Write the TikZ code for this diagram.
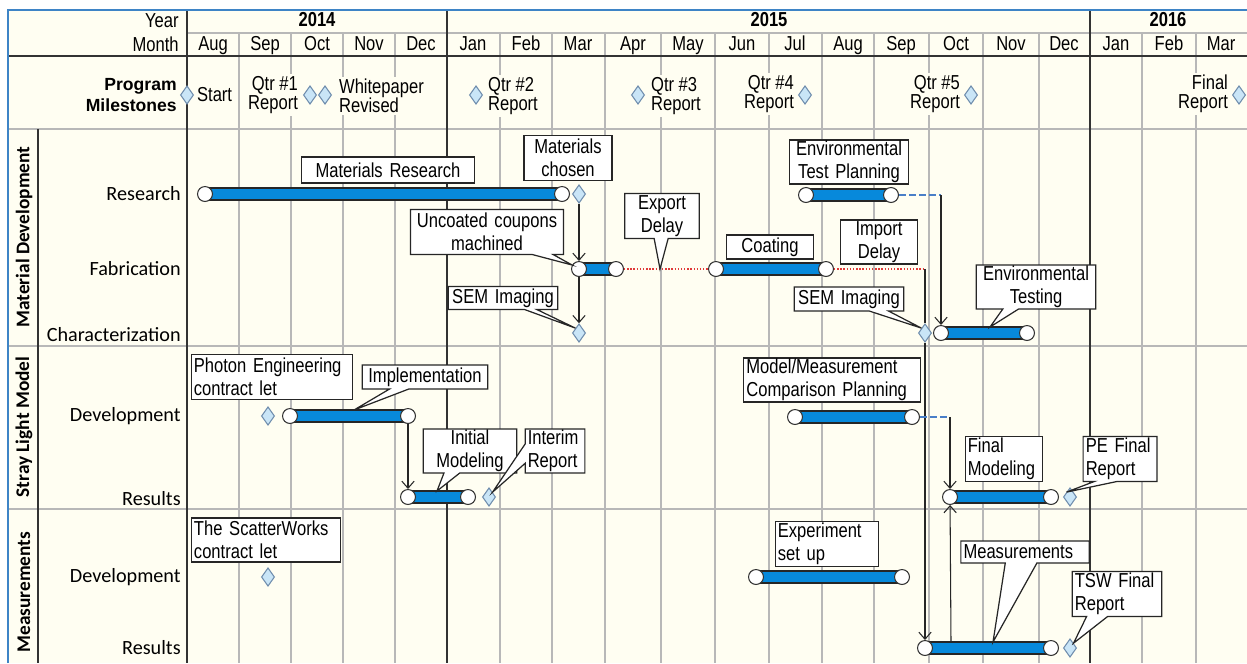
\documentclass[tikz,border=0pt]{standalone}
\usepackage{fontspec}
\setmainfont{Liberation Sans}[FakeStretch=0.82]
\newfontfamily\calfont{Carlito}
\newfontfamily\plainfont{Liberation Sans}
\usetikzlibrary{shapes.geometric,shapes.callouts,arrows.meta}
\definecolor{cream}{HTML}{FFFEF2}
\definecolor{gridgrey}{HTML}{B8B8B8}
\definecolor{framblue}{HTML}{3E84C6}
\definecolor{barblue}{HTML}{0789DB}
\definecolor{dfill}{HTML}{C9E5F7}
\definecolor{dgray}{HTML}{6F8DAD}
\definecolor{delayred}{HTML}{E03A3A}
\definecolor{slackblue}{HTML}{4A7FC8}
\begin{document}
\begin{tikzpicture}[x=0.02cm, y=-0.02cm,
  every node/.style={font=\fontsize{11.5}{13}\selectfont},
  mline/.style={draw=gridgrey, line width=0.6pt},
  yline/.style={draw=black!80, line width=0.8pt},
  mon/.style={text height=8.5pt, text depth=2.5pt, inner sep=0pt},
  rowlbl/.style={anchor=east, inner sep=0pt, font=\calfont\fontsize{11.5}{13}\selectfont},
  sectlbl/.style={rotate=90, inner sep=0pt, font=\calfont\bfseries\fontsize{11}{13}\selectfont},
  mslbl/.style={fill=cream, inner sep=1pt, font=\fontsize{11.5}{11}\selectfont},
  msd/.style={diamond, draw=dgray, fill=dfill, line width=0.6pt, minimum width=7.5pt, minimum height=10.5pt, inner sep=0pt},
  endpt/.style={circle, draw=black!80, fill=white, line width=0.6pt, minimum size=8.5pt, inner sep=0pt},
  gbar/.style={draw=black!85, fill=barblue, line width=0.7pt},
  gnote/.style={draw=black!85, fill=white, line width=0.7pt, inner xsep=1.5pt, inner ysep=0.5pt},
  gcall/.style={gnote, rectangle callout, callout pointer width=#1},
  glink/.style={draw=black!85, line width=0.6pt, -{Straight Barb[length=4pt,width=7pt]}},
  thinln/.style={draw=black!85, line width=0.6pt},
  gdelay/.style={draw=delayred, line width=0.8pt, densely dotted},
  gslack/.style={draw=slackblue, line width=1.2pt, dash pattern=on 4pt off 1.7pt}]
\useasboundingbox (0,0) rectangle (1247,663);
% frame and grid
\fill[cream] (8,10) rectangle (1247,663);
\foreach \x in {239,291,343,395,500,552,605,661,715,769,822,874,929,983,1039,1142,1196}
  \draw[mline] (\x,33) -- (\x,663);
\draw[mline] (187,33) -- (1247,33);
\foreach \y in {129,346,509}
  \draw[mline] (8,\y) -- (1247,\y);
\foreach \x in {187,447,1090}
  \draw[yline] (\x,10) -- (\x,663);
\draw[yline] (38,129) -- (38,663);
\draw[yline, line width=1pt] (8,56) -- (1247,56);
\draw[framblue, line width=1pt] (8,663) -- (8,10) -- (1247,10);

% header
\node[anchor=east, inner sep=0pt] (yr) at (179,21) {Year};
\node[anchor=east, inner sep=0pt] (mo) at (179,44) {Month};
\node[font=\bfseries\fontsize{11.5}{13}\selectfont] (y14) at (317,20) {2014};
\node[font=\bfseries\fontsize{11.5}{13}\selectfont] (y15) at (769,20) {2015};
\node[font=\bfseries\fontsize{11.5}{13}\selectfont] (y16) at (1168,20) {2016};
\foreach \m/\x [count=\i] in {Aug/213,Sep/265,Oct/317,Nov/369,Dec/421,Jan/473,Feb/526,Mar/578,Apr/633,May/688,Jun/742,Jul/795,Aug/848,Sep/901,Oct/956,Nov/1011,Dec/1064,Jan/1116,Feb/1169,Mar/1221}
  \node[mon] (mon\i) at (\x,45) {\m};

% milestones
\node[anchor=east, align=right, inner sep=0pt, font=\plainfont\bfseries\fontsize{10}{11.5}\selectfont] (pm) at (177,95) {Program\\Milestones};
\node[mslbl, anchor=west] (mst0) at (195,95) {Start};
\node[mslbl, anchor=east, align=right] (mst1) at (300,95) {Qtr \#1\\Report};
\node[mslbl, anchor=west, align=left] (mst2) at (337,96) {Whitepaper\\Revised};
\node[mslbl, anchor=west, align=left] (mst3) at (486,96) {Qtr \#2\\Report};
\node[mslbl, anchor=west, align=left] (mst4) at (649,96) {Qtr \#3\\Report};
\node[mslbl, anchor=east, align=right] (mst5) at (796,94) {Qtr \#4\\Report};
\node[mslbl, anchor=east, align=right] (mst6) at (962,94) {Qtr \#5\\Report};
\node[mslbl, anchor=east, align=right] (mst7) at (1230,94) {Final\\Report};
\foreach \x [count=\i] in {187,310,325,476,638,805,971,1239}
  \node[msd] (ms\i) at (\x,95) {};

% row and section labels
\node[sectlbl] (smat) at (24,237) {Material Development};
\node[sectlbl] (sstr) at (24,427) {Stray Light Model};
\node[sectlbl] (smea) at (24,592) {Measurements};
\node[rowlbl] (rres) at (181,194) {Research};
\node[rowlbl] (rfab) at (181,269) {Fabrication};
\node[rowlbl] (rchr) at (181,335) {Characterization};
\node[rowlbl] (rsdv) at (181,416) {Development};
\node[rowlbl] (rsrs) at (181,499) {Results};
\node[rowlbl] (rmdv) at (181,577) {Development};
\node[rowlbl] (rmrs) at (181,648) {Results};

% task bars
\draw[gbar] (205,188) rectangle (562,200);
\draw[gbar] (579,263) rectangle (616,275);
\draw[gbar] (716,263) rectangle (826,275);
\draw[gbar] (806,189) rectangle (891,201);
\draw[gbar] (941,327) rectangle (1027,339);
\draw[gbar] (290,410) rectangle (408,422);
\draw[gbar] (408,491) rectangle (468,503);
\draw[gbar] (795,411) rectangle (912,423);
\draw[gbar] (950,491) rectangle (1051,503);
\draw[gbar] (756,571) rectangle (902,583);
\draw[gbar] (925,642) rectangle (1051,654);
\node[endpt] (mr1) at (205,194) {};
\node[endpt] (mr2) at (562,194) {};
\node[endpt] (fab1) at (579,269) {};
\node[endpt] (fab2) at (616,269) {};
\node[endpt] (coat1) at (716,269) {};
\node[endpt] (coat2) at (826,269) {};
\node[endpt] (etp1) at (806,195) {};
\node[endpt] (etp2) at (891,195) {};
\node[endpt] (et1) at (941,333) {};
\node[endpt] (et2) at (1027,333) {};
\node[endpt] (imp1) at (290,416) {};
\node[endpt] (imp2) at (408,416) {};
\node[endpt] (im1) at (408,497) {};
\node[endpt] (im2) at (468,497) {};
\node[endpt] (mm1) at (795,417) {};
\node[endpt] (mm2) at (912,417) {};
\node[endpt] (fm1) at (950,497) {};
\node[endpt] (fm2) at (1051,497) {};
\node[endpt] (es1) at (756,577) {};
\node[endpt] (es2) at (902,577) {};
\node[endpt] (msr1) at (925,648) {};
\node[endpt] (msr2) at (1051,648) {};
\node[msd] (mc) at (579,194) {};
\node[msd] (sem1) at (579,333) {};
\node[msd] (sem2) at (925,333) {};
\node[msd] (pec) at (268,416) {};
\node[msd] (ir) at (489,497) {};
\node[msd] (pef) at (1070,497) {};
\node[msd] (tsw) at (268,577) {};
\node[msd] (tswf) at (1070,648) {};
\coordinate (impd) at (925,269);
\coordinate (etpc) at (941,195);
\coordinate (mmc) at (950,417);
\coordinate (msup) at (951,642);
\coordinate (exd) at (660,269);
\coordinate (etc) at (990,327);
\coordinate (impc) at (354,410);
\coordinate (imc) at (437,491);
\coordinate (msc) at (993,642);

% dependencies
\draw[glink] (mc) -- (fab1);
\draw[glink] (fab1) -- (sem1);
\draw[gdelay] (fab2) -- (coat1);
\draw[gdelay] (coat2) -- (impd);
\draw[thinln] (impd) -- (sem2);
\draw[glink] (sem2) -- (msr1);
\draw[gslack] (etp2) -- (etpc);
\draw[glink] (etpc) -- (et1);
\draw[glink] (imp2) -- (im1);
\draw[gslack] (mm2) -- (mmc);
\draw[glink] (mmc) -- (fm1);
\draw[glink] (msup) -- (fm1);

% notes
\node[gnote, text width=95.7pt, minimum height=14.7pt, align=center] (nmr) at (388,170) {Materials Research};
\node[gnote, text width=47pt, minimum height=25.5pt, align=center] (nmc) at (568,158) {Materials\\chosen};
\node[gcall=12pt, callout absolute pointer={(fab1.150)}, text width=84pt, minimum height=25.5pt, align=center] (nuc) at (487,232) {Uncoated coupons\\machined};
\node[gcall=7pt, callout absolute pointer={(sem1.north west)}, text width=59.4pt, minimum height=13pt, align=center] (nsem1) at (503,298) {SEM Imaging};
\node[gcall=8pt, callout absolute pointer={(exd)}, text width=39.5pt, minimum height=25.5pt, align=center] (nexp) at (662,216) {Export\\Delay};
\node[gnote, text width=46.3pt, minimum height=13.6pt, align=center] (ncoat) at (770,247) {Coating};
\node[gnote, text width=40.7pt, minimum height=25pt, align=center] (nimp) at (879,242) {Import\\Delay};
\node[gnote, text width=65pt, minimum height=25pt, align=center] (netp) at (849,162) {Environmental\\Test Planning};
\node[gcall=9pt, callout absolute pointer={(etc)}, text width=65pt, minimum height=25pt, align=center] (net) at (1036,287) {Environmental\\Testing};
\node[gcall=11pt, callout absolute pointer={(sem2.north west)}, text width=59.4pt, minimum height=13.6pt, align=center] (nsem2) at (849,299) {SEM Imaging};
\node[gnote, text width=89pt, minimum height=25.5pt, align=left] (npec) at (272,377) {Photon Engineering\\contract let};
\node[gcall=11pt, callout absolute pointer={(impc)}, text width=68.4pt, minimum height=13.6pt, align=center] (nimpl) at (425,377) {Implementation};
\node[gcall=9pt, callout absolute pointer={(imc)}, text width=50.3pt, minimum height=25pt, align=center] (nim) at (470,451) {Initial\\Modeling};
\node[gcall=11pt, callout absolute pointer={(ir.north east)}, text width=31pt, minimum height=25pt, align=left] (nir) at (555,451) {Interim\\Report};
\node[gnote, text width=82pt, minimum height=25pt, align=left] (ntsw) at (266,540) {The ScatterWorks\\contract let};
\node[gnote, text width=97.4pt, minimum height=25pt, align=left] (nmm) at (832,380) {Model/Measurement\\Comparison Planning};
\node[gnote, text width=41.2pt, minimum height=25.5pt, align=left] (nfm) at (1004,459) {Final\\Modeling};
\node[gcall=13pt, callout absolute pointer={(pef.north west)}, text width=39pt, minimum height=25.5pt, align=left] (npef) at (1120,459) {PE Final\\Report};
\node[gnote, text width=56pt, minimum height=25.5pt, align=left] (nes) at (827,544) {Experiment\\set up};
\node[gcall=18pt, callout absolute pointer={(msc)}, text width=70pt, minimum height=12.5pt, align=left] (nms) at (1025,552) {Measurements};
\node[gcall=12pt, callout absolute pointer={(tswf.north east)}, text width=48pt, minimum height=25.5pt, align=left] (ntswf) at (1117,594) {TSW Final\\Report};
\end{tikzpicture}
\end{document}
